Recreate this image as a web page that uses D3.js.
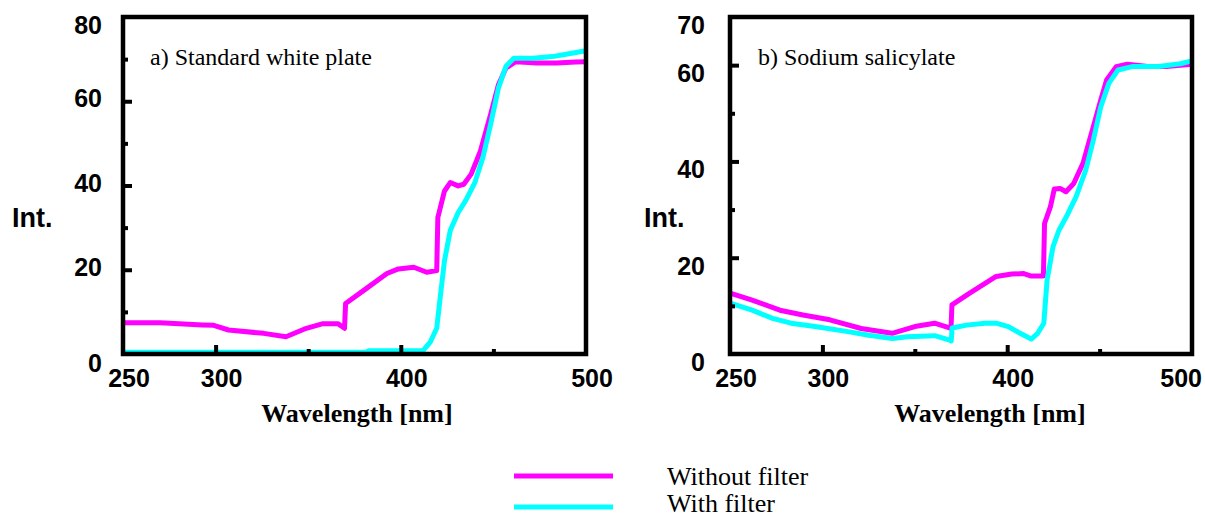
<!DOCTYPE html>
<html>
<head>
<meta charset="utf-8">
<script src="https://cdn.jsdelivr.net/npm/d3@7"></script>
<style>
  html, body { margin: 0; padding: 0; background: #fff; }
  svg { display: block; }
</style>
</head>
<body>
<svg id="chart" width="1205" height="517"></svg>
<script>
// ---- Data ----
const xTicksMajor = [300, 400];
const xTicksMinor = [350, 450];
const xTickLabels = [250, 300, 400, 500];

const aYTicksMajor = [20, 40, 60];
const aYTicksMinor = [10, 30, 50, 70];
const aYTickLabels = [0, 20, 40, 60, 80];

const bYTicksMajor = [20, 40, 60];
const bYTicksMinor = [10, 30, 50];
const bYTickLabels = [0, 20, 40, 60, 70];

// a) Standard white plate
const aWithoutX = [250, 270, 293, 299, 307, 326, 338, 349, 358, 366, 369.6, 370.2, 380, 392.5, 398.7, 407, 414, 419.4, 420, 423.6, 426.7, 431, 434, 438, 443, 448.5, 452.7, 456.8, 462, 473.5, 484, 494.5, 500];
const aWithoutY = [7.4, 7.4, 6.9, 6.8, 5.7, 4.9, 4.1, 6.1, 7.2, 7.2, 6.1, 12.0, 15.1, 19.1, 20.2, 20.6, 19.4, 19.8, 32.4, 38.7, 40.7, 39.9, 40.3, 42.7, 48.2, 56.9, 63.9, 67.9, 69.4, 69.1, 69.1, 69.3, 69.4];
const aWithX = [250, 381, 383, 412, 416, 419.4, 421.5, 423.6, 426.7, 431, 435, 440, 444.3, 448.5, 452.7, 456.8, 461, 471.4, 481.8, 490, 500];
const aWithY = [0.4, 0.4, 0.8, 0.8, 2.9, 6.1, 14.3, 22.2, 29.3, 33.6, 36.4, 40.7, 46.6, 54.5, 63.1, 68.3, 70.2, 70.2, 70.6, 71.2, 72];

// b) Sodium salicylate
const bWithoutX = [250.5, 262, 277, 289.5, 304, 321, 337.7, 350, 360.7, 369.6, 370.1, 379.5, 394, 402.5, 409, 413, 419.6, 420.2, 423.4, 425.5, 428.6, 431.8, 436, 441, 446.6, 450.6, 453.8, 459, 465, 476, 486, 500];
const bWithoutY = [12.6, 11.2, 9.1, 8.1, 7.1, 5.3, 4.3, 5.7, 6.4, 5.3, 10.2, 12.6, 16.1, 16.6, 16.7, 16.2, 16.2, 27.1, 30.6, 34.3, 34.4, 33.7, 35.4, 39.6, 47.2, 52.7, 56.9, 59.7, 60.2, 59.7, 59.7, 60.2];
const bWithX = [250.5, 262, 273, 283, 296, 314.6, 325, 338, 346, 360.7, 368, 369.7, 370.2, 378, 388, 394, 400.6, 407, 413, 416.5, 419.8, 421.6, 424.8, 428, 432, 437.3, 442.5, 446.6, 450.6, 455, 460, 467.6, 482, 493.7, 500];
const bWithY = [10.5, 9.1, 7.4, 6.4, 5.7, 4.6, 3.9, 3.2, 3.6, 3.8, 3.0, 2.7, 5.4, 6.0, 6.4, 6.4, 5.7, 4.3, 3.1, 4.3, 6.4, 15.4, 22.3, 25.7, 28.5, 32.7, 38.2, 44.4, 51.3, 56.2, 59, 59.7, 59.7, 60.3, 60.9];

const seriesNames = ["Without filter", "With filter"];
const seriesColors = ["#ff00ff", "#00ffff"];

// ---- Drawing ----
const W = 1205, H = 517;
const svg = d3.select("#chart");
const SANS = "'Liberation Sans', Arial, Helvetica, sans-serif";
const SERIF = "'Liberation Serif', 'Times New Roman', Times, serif";

const panels = [
  { left: 123, right: 586, top: 17, bottom: 354, yMax: 80,
    label: "a) Standard white plate", labelX: 150,
    yMajor: aYTicksMajor, yMinor: aYTicksMinor, yLabels: aYTickLabels,
    labelRight: 102, labelShift: v => (v === 80 ? 8 : v === 0 ? 9 : -3),
    intX: 12, titleX: 357,
    series: [[aWithoutX, aWithoutY], [aWithX, aWithY]] },
  { left: 730, right: 1192, top: 17, bottom: 354, yMax: 70,
    label: "b) Sodium salicylate", labelX: 758,
    yMajor: bYTicksMajor, yMinor: bYTicksMinor, yLabels: bYTickLabels,
    labelRight: 705, labelShift: v => 8,
    intX: 644, titleX: 990,
    series: [[bWithoutX, bWithoutY], [bWithX, bWithY]] }
];

panels.forEach(p => {
  const x = d3.scaleLinear().domain([250, 500]).range([p.left, p.right]);
  const y = d3.scaleLinear().domain([0, p.yMax]).range([p.bottom, p.top]);
  const g = svg.append("g");

  // curves
  const line = d3.line().x(d => x(d[0])).y(d => y(d[1]));
  p.series.forEach((s, i) => {
    const pts = s[0].map((xv, k) => [xv, s[1][k]]);
    g.append("path").datum(pts)
      .attr("d", line)
      .attr("fill", "none")
      .attr("stroke", seriesColors[i])
      .attr("stroke-width", 5)
      .attr("stroke-linejoin", "round")
      .attr("stroke-linecap", "butt");
  });

  // ticks (inward) via d3 axes
  const styleAxis = sel => {
    sel.select(".domain").remove();
    sel.selectAll(".tick line").attr("stroke", "#000").attr("stroke-width", 4);
    sel.selectAll(".tick text").remove();
  };
  g.append("g").attr("transform", `translate(0,${p.bottom})`)
    .call(d3.axisBottom(x).tickValues(xTicksMajor).tickSize(-9).tickFormat(""))
    .call(styleAxis);
  g.append("g").attr("transform", `translate(0,${p.bottom})`)
    .call(d3.axisBottom(x).tickValues(xTicksMinor).tickSize(-5).tickFormat(""))
    .call(styleAxis);
  g.append("g").attr("transform", `translate(${p.left},0)`)
    .call(d3.axisLeft(y).tickValues(p.yMajor).tickSize(-9).tickFormat(""))
    .call(styleAxis);
  g.append("g").attr("transform", `translate(${p.left},0)`)
    .call(d3.axisLeft(y).tickValues(p.yMinor).tickSize(-5).tickFormat(""))
    .call(styleAxis);

  // frame
  g.append("rect")
    .attr("x", p.left).attr("y", p.top)
    .attr("width", p.right - p.left).attr("height", p.bottom - p.top)
    .attr("fill", "none").attr("stroke", "#000").attr("stroke-width", 4.5);

  // y tick labels
  g.selectAll(".ylab").data(p.yLabels).enter().append("text")
    .attr("x", p.labelRight)
    .attr("y", v => y(v) + p.labelShift(v))
    .attr("dy", "0.36em")
    .attr("text-anchor", "end")
    .attr("font-family", SANS).attr("font-weight", "bold").attr("font-size", 25)
    .text(v => v);

  // x tick labels
  g.selectAll(".xlab").data(xTickLabels).enter().append("text")
    .attr("x", v => {
      const cx = x(v) + 6;
      return cx + 22 > W - 2 ? W - 3 : cx;
    })
    .attr("y", 387)
    .attr("text-anchor", v => (x(v) + 6 + 22 > W - 2 ? "end" : "middle"))
    .attr("font-family", SANS).attr("font-weight", "bold").attr("font-size", 25)
    .text(v => v);

  // axis titles
  g.append("text").attr("x", p.intX).attr("y", 227)
    .attr("font-family", SANS).attr("font-weight", "bold").attr("font-size", 27)
    .text("Int.");
  g.append("text").attr("x", p.titleX).attr("y", 422)
    .attr("text-anchor", "middle")
    .attr("font-family", SERIF).attr("font-weight", "bold").attr("font-size", 26)
    .text("Wavelength [nm]");

  // panel label
  g.append("text").attr("x", p.labelX).attr("y", 65)
    .attr("font-family", SERIF).attr("font-size", 24)
    .text(p.label);
});

// legend
const legend = svg.append("g");
const legendY = [476, 507];
const legendTextY = [485, 512];
seriesNames.forEach((name, i) => {
  legend.append("line")
    .attr("x1", 514).attr("x2", 613)
    .attr("y1", legendY[i]).attr("y2", legendY[i])
    .attr("stroke", seriesColors[i]).attr("stroke-width", 5);
  legend.append("text")
    .attr("x", 667).attr("y", legendTextY[i])
    .attr("font-family", SERIF).attr("font-size", 26)
    .text(name);
});
</script>
</body>
</html>
